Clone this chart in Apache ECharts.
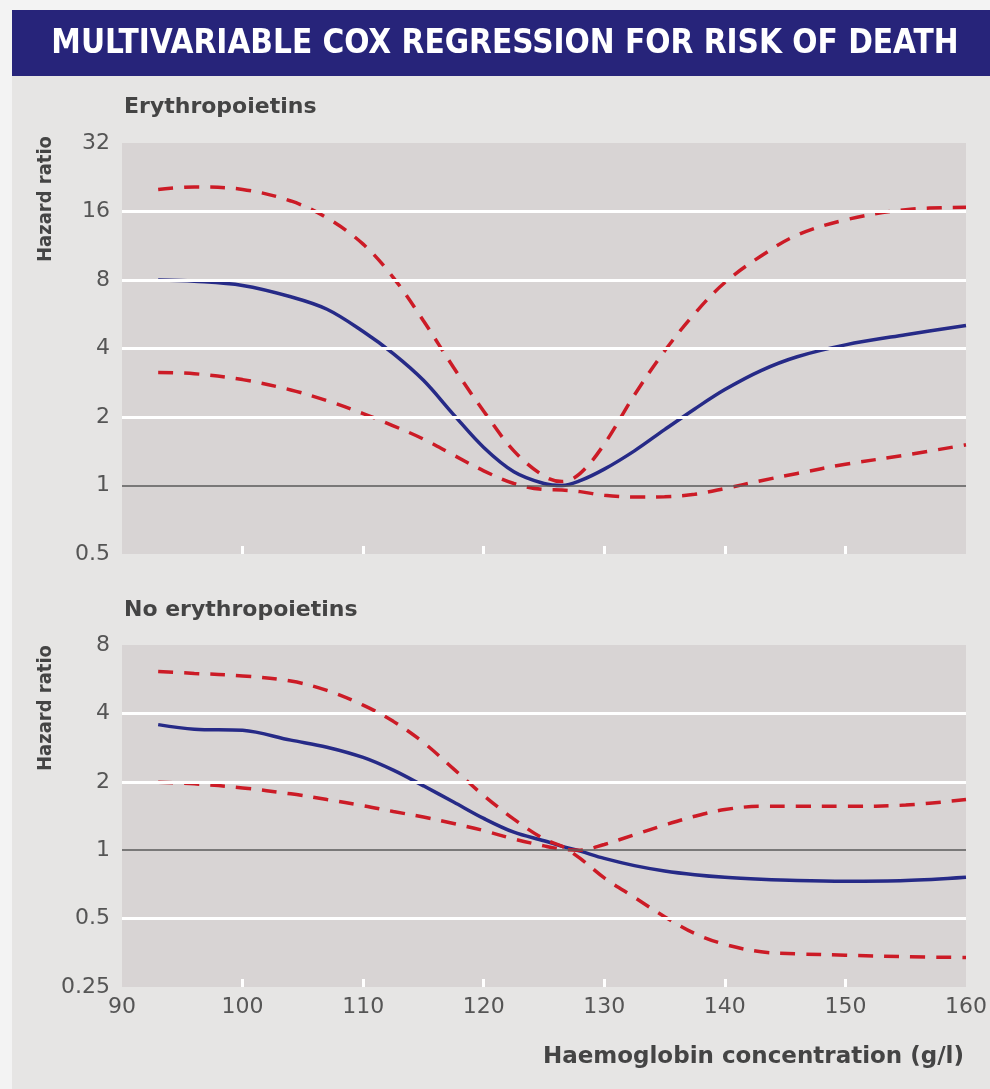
<!DOCTYPE html>
<html>
<head>
<meta charset="utf-8">
<script src="https://cdn.jsdelivr.net/npm/echarts@6/dist/echarts.min.js"></script>
<style>
  html, body { margin: 0; padding: 0; background: #f3f3f3; }
  #main { width: 990px; height: 1089px; }
</style>
</head>
<body>
<div id="main"></div>
<script>
// haemoglobin concentration (g/l) at which the curves were read
var hb = [93, 96, 100, 104, 107, 110, 112.5, 115, 117.5, 120, 122.5, 125, 126.5, 128, 130, 132.5, 135, 137.5, 140, 143, 146, 150, 155, 160];

// Erythropoietins: hazard ratio and 95% CI
var epoHR    = [8.0, 7.9, 7.57, 6.75, 5.95, 4.75, 3.8, 2.9, 2.05, 1.47, 1.15, 1.02, 1.0, 1.05, 1.18, 1.42, 1.76, 2.17, 2.64, 3.2, 3.68, 4.15, 4.6, 5.05];
var epoUpper = [20.0, 20.5, 20.0, 17.8, 15.0, 11.5, 8.2, 5.3, 3.3, 2.12, 1.42, 1.1, 1.04, 1.13, 1.52, 2.5, 3.9, 5.7, 7.8, 10.2, 12.6, 14.7, 16.3, 16.7];
var epoLower = [3.14, 3.1, 2.92, 2.63, 2.36, 2.07, 1.83, 1.6, 1.36, 1.16, 1.02, 0.96, 0.955, 0.94, 0.905, 0.89, 0.893, 0.915, 0.97, 1.05, 1.13, 1.24, 1.36, 1.51];

// No erythropoietins: hazard ratio and the two CI curves (they cross near 127 g/l)
var noEpoHR  = [3.57, 3.41, 3.37, 3.05, 2.84, 2.56, 2.25, 1.92, 1.63, 1.38, 1.2, 1.1, 1.04, 0.99, 0.92, 0.855, 0.81, 0.78, 0.76, 0.745, 0.735, 0.73, 0.735, 0.76];
var noEpoCiA = [6.12, 6.0, 5.85, 5.55, 5.05, 4.35, 3.69, 2.98, 2.28, 1.74, 1.37, 1.12, 1.04, 0.92, 0.755, 0.62, 0.51, 0.43, 0.385, 0.357, 0.35, 0.345, 0.34, 0.337];
var noEpoCiB = [1.99, 1.96, 1.88, 1.77, 1.67, 1.57, 1.48, 1.4, 1.31, 1.22, 1.12, 1.045, 1.01, 1.0, 1.06, 1.17, 1.29, 1.41, 1.51, 1.56, 1.56, 1.56, 1.58, 1.67];

var hbTicks = [90, 100, 110, 120, 130, 140, 150, 160];
var innerTicks = [100, 110, 120, 130, 140, 150];
var epoTicks = [0.5, 1, 2, 4, 8, 16, 32];
var noEpoTicks = [0.25, 0.5, 1, 2, 4, 8];

var BLUE = '#262a87';
var RED = '#cc1b26';
var TXT = '#555555';
var FONT = '"DejaVu Sans", sans-serif';
var COND = '"DejaVu Sans Condensed", "Liberation Sans Narrow", "DejaVu Sans", sans-serif';

function pairs(ys) {
    return hb.map(function (x, i) { return [x, ys[i]]; });
}

// white gridlines at inner ticks, dark reference line at 1
function gridLines(ticks) {
    var out = [];
    ticks.forEach(function (t, i) {
        if (i === 0 || i === ticks.length - 1) return;
        out.push({
            yAxis: t,
            lineStyle: t === 1
                ? { color: '#5a5a5a', width: 1.5, type: 'solid' }
                : { color: '#ffffff', width: 3, type: 'solid' }
        });
    });
    return out;
}

function yAxisFor(idx, ticks) {
    return {
        type: 'log',
        logBase: 2,
        gridIndex: idx,
        min: ticks[0],
        max: ticks[ticks.length - 1],
        splitNumber: ticks.length - 1,
        axisLine: { show: false },
        axisTick: { show: false },
        splitLine: { show: false },
        axisLabel: {
            margin: 12,
            color: TXT,
            fontSize: 22,
            fontFamily: FONT,
            formatter: function (v) { return String(Math.round(v * 100) / 100); }
        }
    };
}

function xAxisFor(idx, labels) {
    return {
        type: 'value',
        gridIndex: idx,
        min: hbTicks[0],
        max: hbTicks[hbTicks.length - 1],
        interval: 10,
        axisLine: { show: false },
        splitLine: { show: false },
        axisTick: {
            show: true,
            inside: true,
            length: 8,
            customValues: innerTicks,
            lineStyle: { color: '#ffffff', width: 3 }
        },
        axisLabel: {
            show: labels,
            margin: 9,
            color: TXT,
            fontSize: 22,
            fontFamily: FONT
        }
    };
}

function curve(idx, ys, color, dashed, z) {
    return {
        type: 'line',
        xAxisIndex: idx,
        yAxisIndex: idx,
        data: pairs(ys),
        showSymbol: false,
        smooth: 0.35,
        z: z,
        lineStyle: {
            color: color,
            width: 3.5,
            type: dashed ? [15, 11] : 'solid'
        }
    };
}

function helper(idx, ticks) {
    return {
        type: 'line',
        xAxisIndex: idx,
        yAxisIndex: idx,
        data: [],
        z: 1,
        markLine: {
            silent: true,
            symbol: ['none', 'none'],
            label: { show: false },
            animation: false,
            data: gridLines(ticks)
        }
    };
}

var myChart = echarts.init(document.getElementById('main'));

var option = {
    animation: false,
    backgroundColor: 'transparent',
    graphic: [
        { type: 'rect', z: -10, shape: { x: 12, y: 10, width: 978, height: 1079 }, style: { fill: '#e6e5e4' } },
        { type: 'rect', z: -9, shape: { x: 12, y: 10, width: 978, height: 66 }, style: { fill: '#27247a' } },
        {
            type: 'text', x: 505, y: 44,
            style: {
                text: 'MULTIVARIABLE COX REGRESSION FOR RISK OF DEATH',
                fill: '#ffffff', font: 'bold 33px ' + COND,
                textAlign: 'center', textVerticalAlign: 'middle'
            }
        },
        {
            type: 'text', x: 124, y: 107,
            style: { text: 'Erythropoietins', fill: '#444444', font: 'bold 22px ' + FONT, textVerticalAlign: 'middle' }
        },
        {
            type: 'text', x: 124, y: 610,
            style: { text: 'No erythropoietins', fill: '#444444', font: 'bold 22px ' + FONT, textVerticalAlign: 'middle' }
        },
        {
            type: 'text', x: 46, y: 199, rotation: Math.PI / 2,
            style: { text: 'Hazard ratio', fill: '#444444', font: 'bold 20px ' + COND, textAlign: 'center', textVerticalAlign: 'middle' }
        },
        {
            type: 'text', x: 46, y: 708, rotation: Math.PI / 2,
            style: { text: 'Hazard ratio', fill: '#444444', font: 'bold 20px ' + COND, textAlign: 'center', textVerticalAlign: 'middle' }
        },
        {
            type: 'text', x: 964, y: 1057,
            style: { text: 'Haemoglobin concentration (g/l)', fill: '#444444', font: 'bold 23px ' + FONT, textAlign: 'right', textVerticalAlign: 'middle' }
        }
    ],
    grid: [
        { left: 122, top: 143, width: 844, height: 411, show: true, backgroundColor: '#d8d4d4', borderWidth: 0 },
        { left: 122, top: 645, width: 844, height: 342, show: true, backgroundColor: '#d8d4d4', borderWidth: 0 }
    ],
    xAxis: [xAxisFor(0, false), xAxisFor(1, true)],
    yAxis: [yAxisFor(0, epoTicks), yAxisFor(1, noEpoTicks)],
    series: [
        helper(0, epoTicks),
        curve(0, epoHR, BLUE, false, 2),
        curve(0, epoUpper, RED, true, 3),
        curve(0, epoLower, RED, true, 3),
        helper(1, noEpoTicks),
        curve(1, noEpoHR, BLUE, false, 2),
        curve(1, noEpoCiA, RED, true, 3),
        curve(1, noEpoCiB, RED, true, 3)
    ]
};

myChart.setOption(option);
</script>
</body>
</html>
